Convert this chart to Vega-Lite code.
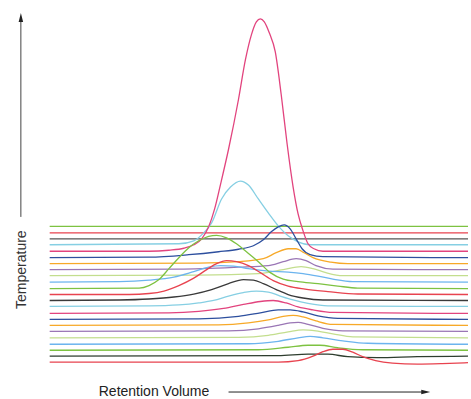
{
"$schema":"https://vega.github.io/schema/vega-lite/v6.json",
"width":471,"height":399,
"autosize":{"type":"fit","contains":"padding"},
"padding":0,
"background":"white",
"config":{"view":{"stroke":null}},
"datasets":{"traces":[
{"trace":1,"volume":0,"signal":13.65},{"trace":1,"volume":20,"signal":13.65},{"trace":1,"volume":42.1,"signal":13.65},
{"trace":2,"volume":0,"signal":13.0},{"trace":2,"volume":20,"signal":13.0},{"trace":2,"volume":42.1,"signal":13.0},
{"trace":3,"volume":0,"signal":12.4},{"trace":3,"volume":20,"signal":12.4},{"trace":3,"volume":42.1,"signal":12.4},
{"trace":4,"volume":0,"signal":11.8},{"trace":4,"volume":13,"signal":11.9},{"trace":4,"volume":14.5,"signal":12.2},{"trace":4,"volume":15.5,"signal":13.0},{"trace":4,"volume":16.3,"signal":14.0},{"trace":4,"volume":17.3,"signal":16.4},{"trace":4,"volume":18.2,"signal":17.6},{"trace":4,"volume":19.2,"signal":18.2},{"trace":4,"volume":20,"signal":17.8},{"trace":4,"volume":21,"signal":16.4},{"trace":4,"volume":22,"signal":15.0},{"trace":4,"volume":23,"signal":13.7},{"trace":4,"volume":24,"signal":12.7},{"trace":4,"volume":25,"signal":12.1},{"trace":4,"volume":26.2,"signal":11.8},{"trace":4,"volume":42.1,"signal":11.8},
{"trace":5,"volume":0,"signal":11.15},{"trace":5,"volume":10,"signal":11.15},{"trace":5,"volume":12,"signal":11.25},{"trace":5,"volume":13.5,"signal":11.45},{"trace":5,"volume":14.5,"signal":11.8},{"trace":5,"volume":15.3,"signal":12.4},{"trace":5,"volume":16,"signal":13.6},{"trace":5,"volume":16.6,"signal":15.4},{"trace":5,"volume":17.2,"signal":17.9},{"trace":5,"volume":18,"signal":21.4},{"trace":5,"volume":19,"signal":26.4},{"trace":5,"volume":19.7,"signal":30.4},{"trace":5,"volume":20.3,"signal":32.9},{"trace":5,"volume":20.8,"signal":34.2},{"trace":5,"volume":21.2,"signal":34.5},{"trace":5,"volume":21.6,"signal":34.2},{"trace":5,"volume":22.1,"signal":33.1},{"trace":5,"volume":22.7,"signal":31.2},{"trace":5,"volume":23.3,"signal":26.9},{"trace":5,"volume":23.9,"signal":21.9},{"trace":5,"volume":24.5,"signal":17.6},{"trace":5,"volume":25,"signal":14.9},{"trace":5,"volume":25.5,"signal":13.2},{"trace":5,"volume":26,"signal":11.9},{"trace":5,"volume":26.6,"signal":11.4},{"trace":5,"volume":27.5,"signal":11.15},{"trace":5,"volume":42.1,"signal":11.15},
{"trace":6,"volume":0,"signal":10.5},{"trace":6,"volume":10,"signal":10.55},{"trace":6,"volume":14,"signal":10.8},{"trace":6,"volume":17,"signal":11.1},{"trace":6,"volume":19,"signal":11.35},{"trace":6,"volume":20.5,"signal":11.7},{"trace":6,"volume":21.5,"signal":12.3},{"trace":6,"volume":22.3,"signal":13.1},{"trace":6,"volume":23,"signal":13.6},{"trace":6,"volume":23.6,"signal":13.8},{"trace":6,"volume":24.2,"signal":13.4},{"trace":6,"volume":24.8,"signal":12.4},{"trace":6,"volume":25.4,"signal":11.4},{"trace":6,"volume":26.2,"signal":10.8},{"trace":6,"volume":27.5,"signal":10.6},{"trace":6,"volume":42.1,"signal":10.5},
{"trace":7,"volume":0,"signal":9.9},{"trace":7,"volume":15,"signal":9.95},{"trace":7,"volume":19,"signal":10.1},{"trace":7,"volume":21.5,"signal":10.4},{"trace":7,"volume":22.8,"signal":11.0},{"trace":7,"volume":24,"signal":11.4},{"trace":7,"volume":24.8,"signal":11.4},{"trace":7,"volume":25.6,"signal":11.0},{"trace":7,"volume":26.5,"signal":10.5},{"trace":7,"volume":28.3,"signal":10.05},{"trace":7,"volume":30,"signal":9.9},{"trace":7,"volume":42.1,"signal":9.9},
{"trace":8,"volume":0,"signal":9.3},{"trace":8,"volume":13,"signal":9.35},{"trace":8,"volume":19,"signal":9.55},{"trace":8,"volume":22,"signal":9.7},{"trace":8,"volume":23.5,"signal":10.1},{"trace":8,"volume":24.8,"signal":10.4},{"trace":8,"volume":25.8,"signal":10.2},{"trace":8,"volume":26.8,"signal":9.7},{"trace":8,"volume":28.5,"signal":9.35},{"trace":8,"volume":42.1,"signal":9.3},
{"trace":9,"volume":0,"signal":8.7},{"trace":9,"volume":15,"signal":8.75},{"trace":9,"volume":21,"signal":8.9},{"trace":9,"volume":23.5,"signal":9.3},{"trace":9,"volume":25.3,"signal":9.6},{"trace":9,"volume":26.5,"signal":9.4},{"trace":9,"volume":27.8,"signal":9.0},{"trace":9,"volume":29.5,"signal":8.7},{"trace":9,"volume":42.1,"signal":8.7},
{"trace":10,"volume":0,"signal":8.05},{"trace":10,"volume":7,"signal":8.1},{"trace":10,"volume":10,"signal":8.25},{"trace":10,"volume":12.5,"signal":8.55},{"trace":10,"volume":14.5,"signal":9.1},{"trace":10,"volume":16,"signal":9.55},{"trace":10,"volume":17.2,"signal":9.7},{"trace":10,"volume":18.5,"signal":9.65},{"trace":10,"volume":20,"signal":9.4},{"trace":10,"volume":22,"signal":9.15},{"trace":10,"volume":24,"signal":9.05},{"trace":10,"volume":25.5,"signal":8.9},{"trace":10,"volume":27,"signal":8.65},{"trace":10,"volume":28.5,"signal":8.35},{"trace":10,"volume":30.5,"signal":8.1},{"trace":10,"volume":42.1,"signal":8.05},
{"trace":11,"volume":0,"signal":7.4},{"trace":11,"volume":9,"signal":7.45},{"trace":11,"volume":10,"signal":7.7},{"trace":11,"volume":11,"signal":8.3},{"trace":11,"volume":12,"signal":9.4},{"trace":11,"volume":13,"signal":10.5},{"trace":11,"volume":14,"signal":11.5},{"trace":11,"volume":15,"signal":12.2},{"trace":11,"volume":16,"signal":12.65},{"trace":11,"volume":16.8,"signal":12.75},{"trace":11,"volume":17.8,"signal":12.5},{"trace":11,"volume":18.8,"signal":11.9},{"trace":11,"volume":19.8,"signal":11.1},{"trace":11,"volume":21,"signal":10.1},{"trace":11,"volume":22.2,"signal":9.0},{"trace":11,"volume":23.5,"signal":8.35},{"trace":11,"volume":25,"signal":8.1},{"trace":11,"volume":27,"signal":7.9},{"trace":11,"volume":29,"signal":7.65},{"trace":11,"volume":31,"signal":7.45},{"trace":11,"volume":42.1,"signal":7.4},
{"trace":12,"volume":0,"signal":6.8},{"trace":12,"volume":8,"signal":6.8},{"trace":12,"volume":10,"signal":6.9},{"trace":12,"volume":11.5,"signal":7.15},{"trace":12,"volume":13,"signal":7.7},{"trace":12,"volume":14.5,"signal":8.45},{"trace":12,"volume":15.8,"signal":9.3},{"trace":12,"volume":16.8,"signal":9.9},{"trace":12,"volume":17.8,"signal":10.2},{"trace":12,"volume":18.8,"signal":10.1},{"trace":12,"volume":20,"signal":9.7},{"trace":12,"volume":21.2,"signal":9.0},{"trace":12,"volume":22.5,"signal":8.2},{"trace":12,"volume":24,"signal":7.65},{"trace":12,"volume":25.7,"signal":7.35},{"trace":12,"volume":28,"signal":7.1},{"trace":12,"volume":31,"signal":6.85},{"trace":12,"volume":42.1,"signal":6.8},
{"trace":13,"volume":0,"signal":6.2},{"trace":13,"volume":7,"signal":6.25},{"trace":13,"volume":10,"signal":6.35},{"trace":13,"volume":12.5,"signal":6.55},{"trace":13,"volume":14.5,"signal":6.85},{"trace":13,"volume":16.3,"signal":7.3},{"trace":13,"volume":18,"signal":7.9},{"trace":13,"volume":19.5,"signal":8.3},{"trace":13,"volume":20.5,"signal":8.25},{"trace":13,"volume":21.5,"signal":7.9},{"trace":13,"volume":22.8,"signal":7.3},{"trace":13,"volume":24,"signal":6.8},{"trace":13,"volume":25.5,"signal":6.45},{"trace":13,"volume":27.5,"signal":6.25},{"trace":13,"volume":42.1,"signal":6.2},
{"trace":14,"volume":0,"signal":5.6},{"trace":14,"volume":10,"signal":5.65},{"trace":14,"volume":13,"signal":5.75},{"trace":14,"volume":15,"signal":5.95},{"trace":14,"volume":16.5,"signal":6.2},{"trace":14,"volume":18,"signal":6.65},{"trace":14,"volume":19.5,"signal":7.0},{"trace":14,"volume":20.8,"signal":7.15},{"trace":14,"volume":22,"signal":7.05},{"trace":14,"volume":23.2,"signal":6.65},{"trace":14,"volume":24.5,"signal":6.25},{"trace":14,"volume":26,"signal":5.9},{"trace":14,"volume":28,"signal":5.65},{"trace":14,"volume":42.1,"signal":5.6},
{"trace":15,"volume":0,"signal":4.9},{"trace":15,"volume":12,"signal":4.95},{"trace":15,"volume":15,"signal":5.1},{"trace":15,"volume":17.5,"signal":5.4},{"trace":15,"volume":19.5,"signal":5.8},{"trace":15,"volume":21.2,"signal":6.1},{"trace":15,"volume":22.5,"signal":6.2},{"trace":15,"volume":23.8,"signal":5.95},{"trace":15,"volume":25,"signal":5.55},{"trace":15,"volume":26.5,"signal":5.25},{"trace":15,"volume":28.5,"signal":5.0},{"trace":15,"volume":42.1,"signal":4.9},
{"trace":16,"volume":0,"signal":4.3},{"trace":16,"volume":15,"signal":4.35},{"trace":16,"volume":19,"signal":4.6},{"trace":16,"volume":21.2,"signal":4.95},{"trace":16,"volume":23,"signal":5.25},{"trace":16,"volume":24.2,"signal":5.25},{"trace":16,"volume":25.5,"signal":5.05},{"trace":16,"volume":27,"signal":4.65},{"trace":16,"volume":29,"signal":4.4},{"trace":16,"volume":42.1,"signal":4.3},
{"trace":17,"volume":0,"signal":3.7},{"trace":17,"volume":17,"signal":3.75},{"trace":17,"volume":20,"signal":3.95},{"trace":17,"volume":22,"signal":4.25},{"trace":17,"volume":23.5,"signal":4.6},{"trace":17,"volume":24.5,"signal":4.7},{"trace":17,"volume":25.5,"signal":4.55},{"trace":17,"volume":26.8,"signal":4.15},{"trace":17,"volume":28.5,"signal":3.8},{"trace":17,"volume":42.1,"signal":3.7},
{"trace":18,"volume":0,"signal":3.1},{"trace":18,"volume":18,"signal":3.15},{"trace":18,"volume":21,"signal":3.35},{"trace":18,"volume":23,"signal":3.7},{"trace":18,"volume":24.2,"signal":3.95},{"trace":18,"volume":25,"signal":4.0},{"trace":18,"volume":26,"signal":3.8},{"trace":18,"volume":27.5,"signal":3.4},{"trace":18,"volume":29.5,"signal":3.15},{"trace":18,"volume":42.1,"signal":3.1},
{"trace":19,"volume":0,"signal":2.45},{"trace":19,"volume":19,"signal":2.5},{"trace":19,"volume":22,"signal":2.7},{"trace":19,"volume":24,"signal":3.05},{"trace":19,"volume":25.5,"signal":3.25},{"trace":19,"volume":26.8,"signal":3.15},{"trace":19,"volume":28.5,"signal":2.85},{"trace":19,"volume":30.5,"signal":2.55},{"trace":19,"volume":42.1,"signal":2.45},
{"trace":20,"volume":0,"signal":1.8},{"trace":20,"volume":20,"signal":1.85},{"trace":20,"volume":23,"signal":2.1},{"trace":20,"volume":25,"signal":2.45},{"trace":20,"volume":26.2,"signal":2.6},{"trace":20,"volume":27.5,"signal":2.45},{"trace":20,"volume":29.5,"signal":2.15},{"trace":20,"volume":32,"signal":1.9},{"trace":20,"volume":42.1,"signal":1.8},
{"trace":21,"volume":0,"signal":1.2},{"trace":21,"volume":21,"signal":1.25},{"trace":21,"volume":24,"signal":1.5},{"trace":21,"volume":26,"signal":1.7},{"trace":21,"volume":27.2,"signal":1.7},{"trace":21,"volume":29,"signal":1.45},{"trace":21,"volume":31.5,"signal":1.25},{"trace":21,"volume":42.1,"signal":1.2},
{"trace":22,"volume":0,"signal":0.6},{"trace":22,"volume":23,"signal":0.65},{"trace":22,"volume":26,"signal":0.8},{"trace":22,"volume":28,"signal":0.8},{"trace":22,"volume":30,"signal":0.55},{"trace":22,"volume":33,"signal":0.45},{"trace":22,"volume":37,"signal":0.55},{"trace":22,"volume":42.1,"signal":0.6},
{"trace":23,"volume":0,"signal":0},{"trace":23,"volume":23,"signal":0},{"trace":23,"volume":25,"signal":0.15},{"trace":23,"volume":26.5,"signal":0.6},{"trace":23,"volume":27.5,"signal":1.05},{"trace":23,"volume":28.5,"signal":1.3},{"trace":23,"volume":29.5,"signal":1.3},{"trace":23,"volume":30.5,"signal":1.0},{"trace":23,"volume":31.5,"signal":0.55},{"trace":23,"volume":32.8,"signal":0.15},{"trace":23,"volume":34.5,"signal":-0.1},{"trace":23,"volume":37,"signal":-0.2},{"trace":23,"volume":39.5,"signal":-0.15},{"trace":23,"volume":42.1,"signal":-0.05}
]},
"encoding":{
"x":{"field":"volume","type":"quantitative","scale":{"domain":[-5,42.1],"nice":false,"zero":false},"axis":null},
"y":{"field":"signal","type":"quantitative","scale":{"domain":[-3.5,36.4],"nice":false,"zero":false},"axis":null}
},
"layer":[
{"data":{"name":"traces"},
"mark":{"type":"line","strokeWidth":1.3,"interpolate":"monotone","clip":false},
"encoding":{
"color":{"field":"trace","type":"nominal","legend":null,
"scale":{"domain":[1,2,3,4,5,6,7,8,9,10,11,12,13,14,15,16,17,18,19,20,21,22,23],
"range":["#7dc241","#e8434f","#555555","#86cfe3","#e2447e","#2d4f9e","#f7a928","#9a76b5","#c3de8e","#6cb4ee","#7dc241","#e8434f","#3a3a3a","#86cfe3","#e2447e","#2d4f9e","#f7a928","#9a76b5","#c3de8e","#6cb4ee","#7dc241","#2e3d2e","#e8434f"]}}
}},
{"data":{"values":[{"volume":-2.9,"signal":14.6,"signal2":34.6}]},
"mark":{"type":"rule","color":"#444444","strokeWidth":1},
"encoding":{"y2":{"field":"signal2"}}},
{"data":{"values":[{"volume":18,"volume2":37.8,"signal":-3.0}]},
"mark":{"type":"rule","color":"#222222","strokeWidth":1},
"encoding":{"x2":{"field":"volume2"}}},
{"data":{"values":[{"volume":-2.9,"signal":34.65}]},
"mark":{"type":"point","shape":"M0,-1L0.5,1L-0.5,1Z","size":81,"filled":true,"color":"#222222","opacity":1},
"encoding":{}},
{"data":{"values":[{"volume":37.85,"signal":-3.0}]},
"mark":{"type":"point","shape":"M1,0L-1,-0.5L-1,0.5Z","size":81,"filled":true,"color":"#222222","opacity":1},
"encoding":{}},
{"data":{"values":[{"volume":-2.35,"signal":9.3,"label":"Temperature"}]},
"mark":{"type":"text","angle":270,"align":"center","baseline":"alphabetic","fontSize":14,"font":"Liberation Sans","color":"#333333"},
"encoding":{"text":{"field":"label"}}},
{"data":{"values":[{"volume":10.5,"signal":-3.4,"label":"Retention Volume"}]},
"mark":{"type":"text","align":"center","baseline":"alphabetic","fontSize":14,"font":"Liberation Sans","color":"#222222"},
"encoding":{"text":{"field":"label"}}}
]
}
